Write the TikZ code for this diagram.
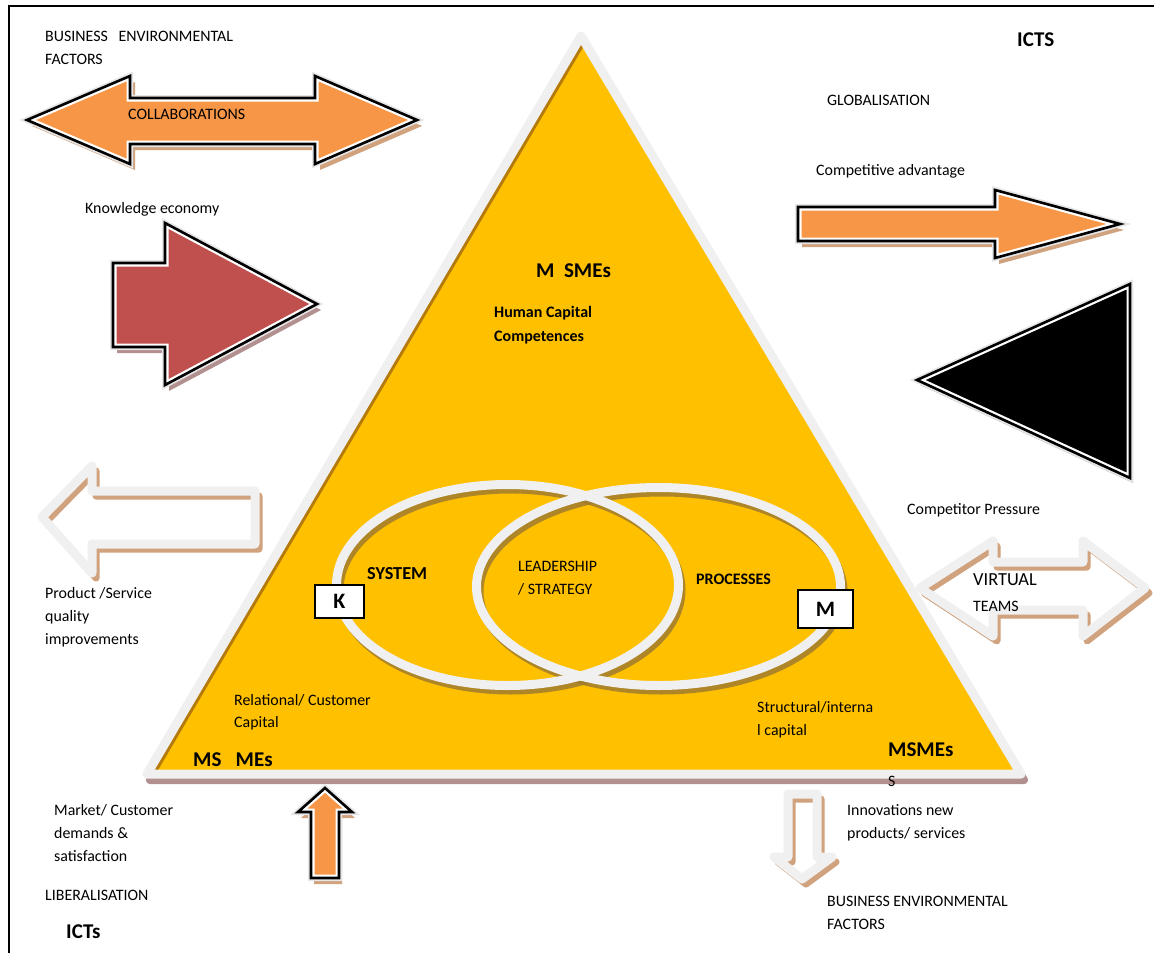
\documentclass[tikz,border=0pt]{standalone}
\usepackage{fontspec}
\setmainfont{Carlito}
\definecolor{orangeA}{HTML}{F79646}
\definecolor{tanshadow}{HTML}{D0A27E}
\definecolor{redA}{HTML}{C0504D}
\definecolor{mauve}{HTML}{B39090}
\definecolor{yellowA}{HTML}{FFC000}
\definecolor{goldline}{HTML}{B57A0C}
\definecolor{ringgray}{HTML}{F0F0F0}
\definecolor{ellshadow}{HTML}{A07D2E}
\definecolor{halo}{HTML}{E6E6E6}
\definecolor{grayshadow}{HTML}{BDBDBD}
\newcommand\solidshape[4]{%
  \fill[#2, shift={#3}] #4 -- cycle;
  \draw[halo, line width=6pt, line join=miter] #4 -- cycle;
  \fill[#1] #4 -- cycle;
  \begin{scope}\clip #4 -- cycle; \draw[white, line width=7pt] #4 -- cycle;\end{scope}
  \draw[black, line width=2.6pt, line join=miter] #4 -- cycle;}
\newcommand\hollowshape[1]{%
  \draw[tanshadow, line width=7pt, line join=round, shift={(4,5)}] #1 -- cycle;
  \draw[ringgray, line width=9pt, line join=round] #1 -- cycle;}
\begin{document}
\begin{tikzpicture}[x=1pt,y=-1pt,
  txt/.style={anchor=base west, inner sep=0pt, font=\fontsize{15.9}{19}\selectfont},
  btxt/.style={anchor=base west, inner sep=0pt, font=\fontsize{16}{19}\selectfont\bfseries},
  big/.style={anchor=base west, inner sep=0pt, font=\fontsize{21}{24}\selectfont\bfseries},
  letterbox/.style={draw=black, line width=2pt, fill=white, inner sep=0pt, font=\fontsize{22}{25}\selectfont\bfseries}]
\useasboundingbox (0,0) rectangle (1154,953);
\fill[white] (0,0) rectangle (1154,953);
% page border
\draw[line width=2pt] (9,953) -- (9,6) -- (1154,6);

% main triangle
\draw[mauve, line width=8pt, line join=round] (584,42) -- (150,780) -- (1024,780) -- cycle;
\fill[yellowA] (581,36) -- (147,774) -- (1021,774) -- cycle;
\begin{scope}
  \clip (581,36) -- (147,774) -- (1021,774) -- cycle;
  \draw[goldline, line width=15pt] (581,36) -- (147,774);
\end{scope}
\draw[ringgray, line width=9pt, line join=round] (581,36) -- (147,774) -- (1021,774) -- cycle;

% overlapping ellipses
\draw[ellshadow, line width=8pt, opacity=0.85] (510.5,590) ellipse [x radius=171pt, y radius=100.5pt];
\draw[ellshadow, line width=8pt, opacity=0.85] (661.5,591.5) ellipse [x radius=182pt, y radius=99pt];
\draw[ringgray, line width=9pt] (507.5,585) ellipse [x radius=171pt, y radius=100.5pt];
\draw[ringgray, line width=9pt] (658.5,586.5) ellipse [x radius=182pt, y radius=99pt];

% COLLABORATIONS double arrow
\solidshape{orangeA}{tanshadow}{(5,6)}{(27,120) -- (130,76) -- (130,98) -- (315,98) -- (315,76) -- (417,120) -- (315,164) -- (315,144) -- (130,144) -- (130,164)}
% Knowledge economy arrow
\solidshape{redA}{mauve}{(4,6)}{(113,263) -- (165,263) -- (165,223) -- (317,304) -- (165,385) -- (165,347) -- (113,347)}
% Competitive advantage arrow
\solidshape{orangeA}{tanshadow}{(4,6)}{(798,207) -- (995,207) -- (995,190) -- (1120,224) -- (995,258) -- (995,241) -- (798,241)}
% black triangle
\solidshape{black}{grayshadow}{(3,5)}{(917,380) -- (1130,284) -- (1130,478)}
% up arrow
\solidshape{orangeA}{tanshadow}{(3,6)}{(325,788) -- (352,812) -- (339,812) -- (339,878) -- (311,878) -- (311,812) -- (298,812)}

% hollow arrows
\hollowshape{(42,517) -- (92,466) -- (92,491) -- (255,491) -- (255,544) -- (92,544) -- (92,573)}
\hollowshape{(920,588) -- (993,541) -- (993,562) -- (1083,562) -- (1083,541) -- (1145,588) -- (1083,636) -- (1083,610) -- (993,610) -- (993,636)}
\hollowshape{(788,794) -- (817,794) -- (817,857) -- (832,857) -- (802,879) -- (774,857) -- (788,857)}

% texts
\node[txt] (bef1) at (45,41.7) {BUSINESS\ \ \ ENVIRONMENTAL};
\node[txt] (bef2) at (45,64.3) {FACTORS};
\node[txt] (collab) at (128,119) {COLLABORATIONS};
\node[big] (icts) at (1017,46) {ICTS};
\node[txt] (glob) at (827,105) {GLOBALISATION};
\node[txt] (compadv) at (816,175) {Competitive advantage};
\node[txt] (know) at (85,213) {Knowledge economy};
\node[big] (msmes1) at (536,277) {M\ \ SMEs};
\node[btxt] (hc1) at (494,317) {Human Capital};
\node[btxt] (hc2) at (494,341) {Competences};
\node[txt] (comppress) at (907,514) {Competitor Pressure};
\node[txt] (ps1) at (45,598) {Product /Service};
\node[txt] (ps2) at (45,621) {quality};
\node[txt] (ps3) at (45,644) {improvements};
\node[btxt, font=\fontsize{18.3}{21}\selectfont\bfseries] (sys) at (367,579) {SYSTEM};
\node[txt] (lead1) at (518,571) {LEADERSHIP};
\node[txt] (lead2) at (518,594) {/ STRATEGY};
\node[btxt] (proc) at (696,584) {PROCESSES};
\node[txt, font=\fontsize{18.4}{21}\selectfont] (virt) at (973,585) {VIRTUAL};
\node[txt] (teams) at (973,611) {TEAMS};
\node[letterbox, minimum width=49pt, minimum height=33pt] (K) at (339.5,601.5) {K};
\node[letterbox, minimum width=55pt, minimum height=38pt] (M) at (825.5,609) {M};
\node[txt] (rel1) at (234,705) {Relational/ Customer};
\node[txt] (rel2) at (234,727.5) {Capital};
\node[txt] (str1) at (757,712) {Structural/interna};
\node[txt] (str2) at (757,735) {l capital};
\node[big] (msmes3) at (888,756) {MSMEs};
\node[txt] (s) at (888,786) {S};
\node[big] (msmes2) at (193,766) {MS\ \ \ MEs};
\node[txt] (mk1) at (54,815) {Market/ Customer};
\node[txt] (mk2) at (54,838) {demands \&};
\node[txt] (mk3) at (54,861) {satisfaction};
\node[txt] (lib) at (45,900) {LIBERALISATION};
\node[big] (icts2) at (66,938) {ICTs};
\node[txt] (inn1) at (847,815) {Innovations new};
\node[txt] (inn2) at (847,838) {products/ services};
\node[txt] (bef3) at (827,906) {BUSINESS ENVIRONMENTAL};
\node[txt] (bef4) at (827,929) {FACTORS};
\end{tikzpicture}
\end{document}
